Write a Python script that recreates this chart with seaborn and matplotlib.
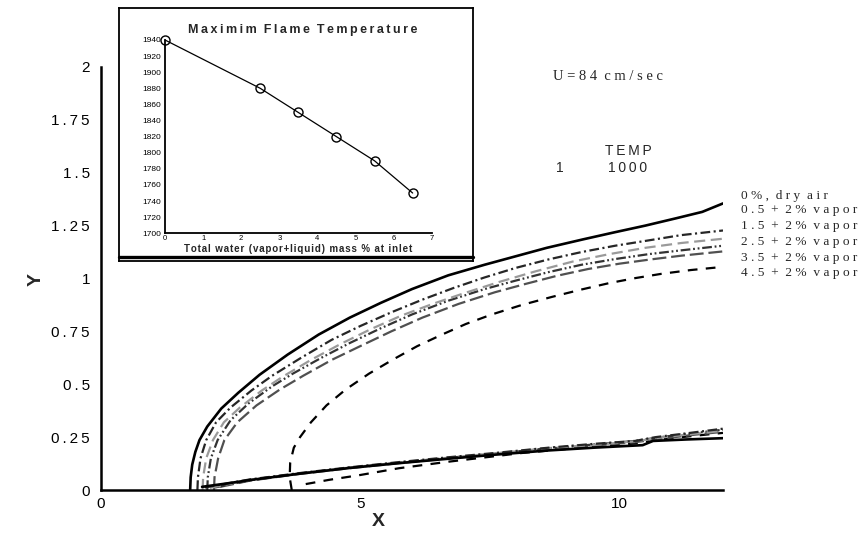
import numpy as np
import pandas as pd
import matplotlib
matplotlib.use("Agg")
import matplotlib.pyplot as plt
import seaborn as sns
from matplotlib.ticker import MultipleLocator, FixedLocator
from matplotlib.lines import Line2D

# ---------------- data ----------------
series_names = ["0%, dry air", "0.5 + 2% vapor", "1.5 + 2% vapor",
                "2.5 + 2% vapor", "3.5 + 2% vapor", "4.5 + 2% vapor"]

# upper flame boundary (1000 K contour) for each case
dry_up_x = [1.72, 1.73, 1.76, 1.82, 1.90, 2.05, 2.32, 2.65, 3.06, 3.6, 4.2, 4.8, 5.4, 6.0, 6.7, 7.4, 8.0, 8.6, 9.3, 9.9, 10.5, 11.1, 11.6, 12.0]
dry_up_y = [0.0, 0.06, 0.12, 0.18, 0.236, 0.30, 0.385, 0.46, 0.545, 0.64, 0.735, 0.815, 0.885, 0.95, 1.015, 1.065, 1.105, 1.145, 1.185, 1.218, 1.25, 1.285, 1.315, 1.355]

v05_up_x = [1.86, 1.87, 1.92, 2.03, 2.22, 2.5, 2.9, 3.3, 3.86, 4.45, 5.0, 5.6, 6.2, 6.8, 7.4, 8.0, 8.63, 9.27, 9.92, 10.56, 11.19, 12.0]
v05_up_y = [0.0, 0.06, 0.15, 0.236, 0.32, 0.39, 0.47, 0.54, 0.625, 0.71, 0.775, 0.84, 0.9, 0.955, 1.005, 1.05, 1.09, 1.125, 1.155, 1.18, 1.205, 1.227]

v15_up_x = [1.96, 1.97, 2.03, 2.16, 2.37, 2.68, 3.1, 3.5, 4.05, 4.62, 5.2, 5.8, 6.4, 7.0, 7.7, 8.4, 9.1, 9.8, 10.5, 11.2, 12.0]
v15_up_y = [0.0, 0.06, 0.15, 0.236, 0.32, 0.39, 0.47, 0.535, 0.615, 0.69, 0.76, 0.825, 0.88, 0.93, 0.985, 1.035, 1.08, 1.115, 1.145, 1.168, 1.188]

v25_up_x = [2.05, 2.06, 2.12, 2.25, 2.5, 2.85, 3.3, 3.7, 4.25, 4.8, 5.4, 6.0, 6.7, 7.4, 8.0, 8.63, 9.27, 9.92, 10.56, 11.19, 12.0]
v25_up_y = [0.0, 0.06, 0.15, 0.236, 0.33, 0.41, 0.49, 0.55, 0.625, 0.695, 0.765, 0.83, 0.895, 0.95, 0.99, 1.03, 1.065, 1.092, 1.115, 1.133, 1.155]

v35_up_x = [2.18, 2.19, 2.26, 2.38, 2.63, 3.0, 3.45, 3.9, 4.45, 5.0, 5.6, 6.2, 6.9, 7.6, 8.2, 8.8, 9.4, 10.0, 10.6, 11.2, 12.0]
v35_up_y = [0.0, 0.06, 0.15, 0.236, 0.32, 0.40, 0.475, 0.54, 0.615, 0.68, 0.75, 0.815, 0.88, 0.935, 0.975, 1.013, 1.045, 1.07, 1.09, 1.108, 1.128]

v45_up_x = [3.68, 3.64, 3.65, 3.72, 3.84, 4.05, 4.35, 4.72, 5.17, 5.62, 6.1, 6.58, 7.04, 7.54, 8.12, 8.7, 9.27, 9.8, 10.31, 10.81, 11.38, 12.0]
v45_up_y = [0.0, 0.06, 0.13, 0.2, 0.25, 0.32, 0.40, 0.475, 0.55, 0.615, 0.68, 0.735, 0.785, 0.83, 0.875, 0.913, 0.948, 0.978, 1.002, 1.022, 1.04, 1.055]

# lower flame boundary for each case
dry_lo_x = [1.95, 2.4, 2.87, 3.83, 4.79, 5.75, 6.71, 7.6, 8.63, 9.5, 10.45, 10.65, 11.3, 12.0]
dry_lo_y = [0.015, 0.03, 0.047, 0.077, 0.104, 0.127, 0.148, 0.167, 0.187, 0.2, 0.212, 0.232, 0.239, 0.245]

v05_lo_x = [2.0, 2.87, 3.83, 4.79, 5.75, 6.71, 7.6, 8.63, 9.5, 10.3, 10.7, 11.3, 12.0]
v05_lo_y = [0.012, 0.05, 0.08, 0.107, 0.132, 0.155, 0.175, 0.2, 0.218, 0.232, 0.25, 0.268, 0.29]

v15_lo_x = [2.1, 2.87, 3.83, 4.79, 5.75, 6.71, 7.6, 8.63, 9.5, 10.3, 10.8, 11.3, 12.0]
v15_lo_y = [0.01, 0.048, 0.079, 0.106, 0.13, 0.153, 0.173, 0.198, 0.213, 0.23, 0.248, 0.262, 0.28]

v25_lo_x = [2.2, 2.87, 3.83, 4.79, 5.75, 6.71, 7.6, 8.63, 9.5, 10.3, 10.8, 11.3, 12.0]
v25_lo_y = [0.012, 0.046, 0.078, 0.105, 0.129, 0.152, 0.172, 0.197, 0.215, 0.232, 0.25, 0.265, 0.285]

v35_lo_x = [2.3, 2.87, 3.83, 4.79, 5.75, 6.71, 7.6, 8.63, 9.5, 10.3, 10.9, 11.4, 12.0]
v35_lo_y = [0.015, 0.044, 0.076, 0.103, 0.127, 0.15, 0.17, 0.195, 0.21, 0.226, 0.245, 0.26, 0.275]

v45_lo_x = [3.95, 4.4, 4.98, 5.75, 6.71, 7.54, 8.12, 8.8, 9.5, 10.3, 10.8, 11.4, 12.0]
v45_lo_y = [0.028, 0.048, 0.07, 0.103, 0.134, 0.158, 0.175, 0.19, 0.205, 0.22, 0.24, 0.255, 0.27]

# inset: maximum flame temperature
water_pct = [0.0, 2.5, 3.5, 4.5, 5.5, 6.5]
max_temp = [1940, 1880, 1850, 1820, 1790, 1750]

x_tick_values = [0, 5, 10]
x_tick_labels = ["0", "5", "10"]
y_tick_values = [0, 0.25, 0.5, 0.75, 1, 1.25, 1.5, 1.75, 2]
y_tick_labels = ["0", "0.25", "0.5", "0.75", "1", "1.25", "1.5", "1.75", "2"]

# ---------------- style ----------------
sns.set_theme(style="white")
plt.rcParams['font.family'] = ['Liberation Sans', 'DejaVu Sans']
plt.rcParams['lines.scale_dashes'] = False
plt.rcParams['axes.unicode_minus'] = False

W, H = 863, 536
fig = plt.figure(figsize=(W / 100, H / 100), dpi=100)
fig.patch.set_facecolor('white')

ax = fig.add_axes([101 / W, 1 - 490 / H, (723 - 101) / W, (490 - 67) / H], zorder=1)
ax.set_facecolor('white')

styles = [
    dict(color='black', linewidth=1.9, linestyle='-'),
    dict(color='#262626', linewidth=1.6, linestyle=(0, (7, 2.5, 1.5, 2.5))),
    dict(color='#9a9a9a', linewidth=1.6, linestyle=(0, (8, 4))),
    dict(color='#333333', linewidth=1.6, linestyle=(0, (7, 2, 1.3, 2, 1.3, 2))),
    dict(color='#505050', linewidth=1.6, linestyle=(0, (10, 3.5))),
    dict(color='black', linewidth=1.6, linestyle=(0, (7, 6))),
]

uppers = [(dry_up_x, dry_up_y), (v05_up_x, v05_up_y), (v15_up_x, v15_up_y),
          (v25_up_x, v25_up_y), (v35_up_x, v35_up_y), (v45_up_x, v45_up_y)]
lowers = [(dry_lo_x, dry_lo_y), (v05_lo_x, v05_lo_y), (v15_lo_x, v15_lo_y),
          (v25_lo_x, v25_lo_y), (v35_lo_x, v35_lo_y), (v45_lo_x, v45_lo_y)]

order = [5, 4, 3, 2, 1, 0]
for i in order:
    for xs, ys in (uppers[i], lowers[i]):
        df = pd.DataFrame({"X": xs, "Y": ys})
        sns.lineplot(data=df, x="X", y="Y", ax=ax, sort=False, estimator=None,
                     **styles[i])

ax.set_xlim(0, 12)
ax.set_ylim(0, 2)
for s in ['top', 'right']:
    ax.spines[s].set_visible(False)
for s in ['left', 'bottom']:
    ax.spines[s].set_color('black')
    ax.spines[s].set_linewidth(1.8)

ax.xaxis.set_major_locator(FixedLocator(x_tick_values))
ax.xaxis.set_minor_locator(MultipleLocator(1))
ax.yaxis.set_major_locator(FixedLocator(y_tick_values))
ax.yaxis.set_minor_locator(MultipleLocator(0.05))
ax.set_xticklabels(x_tick_labels)
ax.set_yticklabels(["\u2009".join(lbl) for lbl in y_tick_labels])
ax.tick_params(axis='both', which='both', direction='in', colors='black', labelsize=11)
ax.tick_params(axis='y', which='major', length=11, width=1.6, pad=8)
ax.tick_params(axis='y', which='minor', length=7, width=1.0)
ax.tick_params(axis='x', which='major', length=8.5, width=1.8, pad=5)
ax.tick_params(axis='x', which='minor', length=4.5, width=1.0)
ax.set_xlabel("")
ax.set_ylabel("")

fig.text(378 / W, 1 - 521 / H, "X", ha='center', va='center', fontsize=14, fontweight='bold')
fig.text(36 / W, 1 - 279 / H, "Y", ha='center', va='center', fontsize=14, fontweight='bold', rotation=90)

# annotations
serif = ['Liberation Serif', 'DejaVu Serif']
fig.text(553 / W, 1 - 77 / H, "U = 8 4  c m / s e c", ha='left', va='center', fontsize=10.5, family=serif)
fig.text(628 / W, 1 - 151 / H, "\u2009".join("TEMP"), ha='center', va='center', fontsize=10)
fig.text(560 / W, 1 - 168 / H, "1", ha='center', va='center', fontsize=10)
fig.text(628 / W, 1 - 168 / H, "\u2009".join("1000"), ha='center', va='center', fontsize=10)

legend_spaced = ["0 % ,  d r y  a i r", "0 . 5  +  2 %  v a p o r", "1 . 5  +  2 %  v a p o r",
                 "2 . 5  +  2 %  v a p o r", "3 . 5  +  2 %  v a p o r", "4 . 5  +  2 %  v a p o r"]
legend_y = [195.5, 210.5, 226, 242, 257.5, 273]
for txt, yy in zip(legend_spaced, legend_y):
    fig.text(741 / W, 1 - yy / H, txt, ha='left', va='center', fontsize=9.6, family=serif)

# ---------------- inset ----------------
box = fig.add_axes([119 / W, 1 - 261 / H, (473 - 119) / W, (261 - 8) / H], zorder=5)
box.set_facecolor('white')
box.set_xticks([])
box.set_yticks([])
for s in box.spines.values():
    s.set_color('black')
    s.set_linewidth(1.3)
fig.add_artist(Line2D([119 / W, 473 / W], [1 - 256.5 / H, 1 - 256.5 / H], transform=fig.transFigure,
                      color='black', linewidth=2.4, zorder=6))

ins = fig.add_axes([165 / W, 1 - 233.3 / H, (431.7 - 165) / W, (233.3 - 40) / H], zorder=7)
ins.patch.set_alpha(0)
inset_df = pd.DataFrame({"water": water_pct, "temp": max_temp})
sns.lineplot(data=inset_df, x="water", y="temp", ax=ins, color='black', linewidth=0.9,
             marker='o', markersize=6.5, markerfacecolor='none', markeredgecolor='black',
             markeredgewidth=1.0, clip_on=False)
ins.set_xlim(0, 7)
ins.set_ylim(1700, 1940)
for s in ['top', 'right']:
    ins.spines[s].set_visible(False)
for s in ['left', 'bottom']:
    ins.spines[s].set_color('black')
    ins.spines[s].set_linewidth(1.3)
ins.xaxis.set_major_locator(MultipleLocator(1))
ins.xaxis.set_minor_locator(MultipleLocator(0.2))
ins.yaxis.set_major_locator(MultipleLocator(20))
ins.yaxis.set_minor_locator(MultipleLocator(4))
ins.tick_params(axis='y', which='both', direction='in', colors='black', labelsize=6)
ins.tick_params(axis='x', which='both', direction='in', colors='black', labelsize=5.5)
ins.tick_params(axis='both', which='major', length=4, width=0.9)
ins.tick_params(axis='both', which='minor', length=2.5, width=0.7)
ins.tick_params(axis='y', which='major', pad=2.5)
ins.tick_params(axis='x', which='major', pad=1.5)
ins.set_xlabel("")
ins.set_ylabel("")

fig.text(303 / W, 1 - 30.5 / H, "\u2009".join("Maximim") + "  " + "\u2009".join("Flame") + "  " + "\u2009".join("Temperature"),
         ha='center', va='center', fontsize=9, fontweight='bold', zorder=8)
fig.text(298 / W, 1 - 248.5 / H, "\u200a".join("Total water (vapor+liquid) mass % at inlet"),
         ha='center', va='center', fontsize=7, fontweight='bold', zorder=8)

fig.savefig("out.png", dpi=100, facecolor='white')
